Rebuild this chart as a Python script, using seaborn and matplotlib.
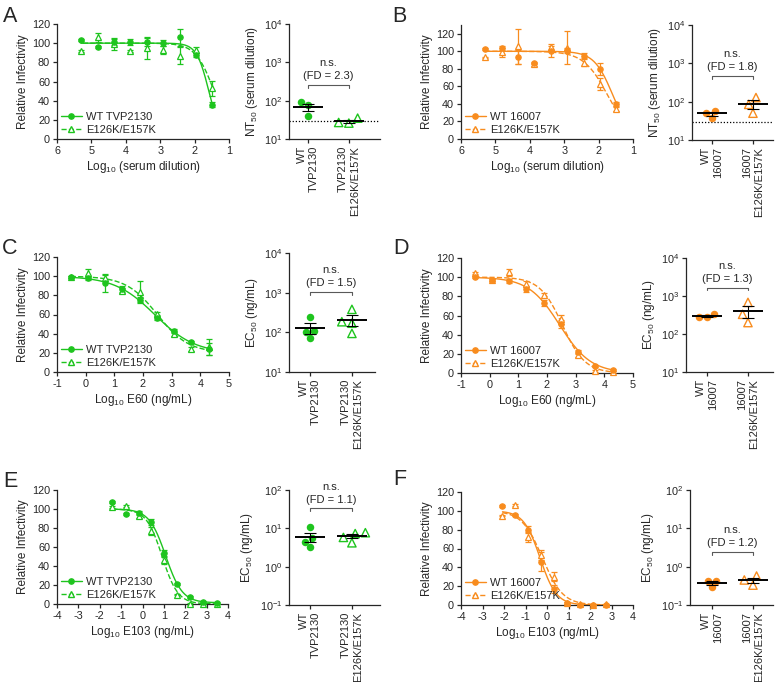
import numpy as np
import pandas as pd
import matplotlib
matplotlib.use('Agg')
import matplotlib.pyplot as plt
import matplotlib.transforms as mtransforms
from matplotlib.lines import Line2D
from matplotlib.ticker import LogLocator, LogFormatterMathtext, NullLocator
import seaborn as sns

GREEN = '#1EC41E'
ORANGE = '#F88C1E'

# ---- dose-response data: x = log10 dose, y = mean relative infectivity, err = error bar ----
serum_x = [5.30, 4.82, 4.35, 3.87, 3.39, 2.91, 2.43, 1.96, 1.48]
e60_x = [-0.52, 0.08, 0.68, 1.28, 1.89, 2.49, 3.09, 3.69, 4.29]
e103_tvp_x = [-1.41, -0.78, -0.17, 0.42, 1.02, 1.63, 2.24, 2.85, 3.47]
e103_16007_x = [-2.07, -1.47, -0.87, -0.27, 0.33, 0.93, 1.53, 2.13, 2.73]

a_wt = [103, 96, 101, 101, 101, 100, 106, 88, 36]
a_wt_err = [1, 1, 3, 3, 4, 3, 9, 2, 3]
a_mut = [92, 106, 99, 92, 95, 93, 87, 93, 53]
a_mut_err = [1, 5, 6, 1, 11, 4, 9, 3, 8]

b_wt = [103, 104, 93, 87, 100, 101, 95, 80, 40]
b_wt_err = [1, 2, 8, 1, 6, 3, 3, 7, 2]
b_mut = [93, 99, 106, 85, 105, 104, 87, 63, 34]
b_mut_err = [1, 5, 20, 2, 3, 19, 4, 7, 2]

c_wt = [99, 98, 93, 87, 75, 56, 43, 31, 24]
c_wt_err = [1, 2, 9, 3, 3, 2, 2, 1, 6]
c_mut = [99, 103, 98, 85, 84, 61, 40, 24, 26]
c_mut_err = [1, 4, 3, 3, 11, 2, 2, 2, 8]

d_wt = [100, 97, 96, 88, 73, 51, 22, 7, 3]
d_wt_err = [1, 1, 2, 3, 3, 4, 2, 1, 1]
d_mut = [104, 97, 105, 93, 81, 56, 19, 2, 1]
d_mut_err = [1, 1, 4, 3, 3, 5, 2, 1, 1]

e_wt = [107, 95, 96, 86, 54, 21, 7, 2, 1]
e_wt_err = [1, 1, 2, 3, 3, 1, 1, 1, 1]
e_mut = [102, 103, 93, 77, 46, 10, 0, 0, 0]
e_mut_err = [1, 1, 2, 4, 4, 1, 1, 0, 0]

f_wt = [105, 96, 80, 46, 17, 2, 0, 0, 0]
f_wt_err = [1, 1, 4, 10, 4, 1, 0, 0, 0]
f_mut = [95, 106, 72, 53, 30, 2, 1, 0, 1]
f_mut_err = [1, 1, 5, 5, 5, 1, 0, 0, 0]

# ---- NT50 / EC50 per replicate ----
a_nt50_wt = [90, 75, 40]
a_nt50_mut = [26, 35, 27]
b_nt50_wt = [58, 38, 52]
b_nt50_mut = [128, 85, 50]
c_ec50_wt = [245, 103, 110, 70]
c_ec50_mut = [380, 185, 170, 94]
d_ec50_wt = [286, 345, 286]
d_ec50_mut = [680, 330, 200]
e_ec50_wt = [11, 5.5, 4.5, 3.2]
e_ec50_mut = [7.7, 7.3, 5.8, 4.2]
f_ec50_wt = [0.43, 0.43, 0.29]
f_ec50_mut = [0.57, 0.45, 0.33]

fold_diff = ['2.3', '1.8', '1.5', '1.3', '1.1', '1.2']
tvp_groups = ['WT\nTVP2130', 'TVP2130\nE126K/E157K']
nyc_groups = ['WT\n16007', '16007\nE126K/E157K']
tvp_legend = ['WT TVP2130', 'E126K/E157K']
nyc_legend = ['WT 16007', 'E126K/E157K']
serum_detection_limit = 30

sns.set_style('ticks')
plt.rcParams['font.family'] = ['Liberation Sans', 'DejaVu Sans']
plt.rcParams['mathtext.fontset'] = 'custom'
plt.rcParams['mathtext.rm'] = 'Liberation Sans'
plt.rcParams['mathtext.it'] = 'Liberation Sans:italic'
plt.rcParams['axes.unicode_minus'] = False
plt.rcParams['font.size'] = 7.5
plt.rcParams['axes.labelsize'] = 8.5
plt.rcParams['xtick.labelsize'] = 7.8
plt.rcParams['ytick.labelsize'] = 7.8
plt.rcParams['axes.linewidth'] = 0.9
plt.rcParams['xtick.major.size'] = 3
plt.rcParams['ytick.major.size'] = 3
plt.rcParams['xtick.major.width'] = 0.9
plt.rcParams['ytick.major.width'] = 0.9
plt.rcParams['xtick.major.pad'] = 2
plt.rcParams['ytick.major.pad'] = 2

W, H = 777, 682
fig = plt.figure(figsize=(W / 100, H / 100), dpi=100)


def px_axes(left, top, right, bottom):
    return fig.add_axes([left / W, 1 - bottom / H, (right - left) / W, (bottom - top) / H])


def fit_logistic(x, y, free_bottom=False):
    """Grid-search fit of y = bottom + (100 - bottom) / (1 + 10^(h (x - x50)))"""
    x = np.asarray(x, float)
    y = np.asarray(y, float)
    mids = np.linspace(x.min() - 1, x.max() + 1, 501)
    steps = np.linspace(0.2, 6, 291)
    slopes = np.concatenate([-steps[::-1], steps])
    M, S = np.meshgrid(mids, slopes, indexing='ij')
    s = 1 / (1 + 10 ** (S[..., None] * (x - M[..., None])))
    if free_bottom:
        w = 1 - s
        bottom = ((y - 100 * s) * w).sum(-1) / (w ** 2).sum(-1)
        bottom = np.clip(bottom, 0, 50)
    else:
        bottom = np.zeros(M.shape)
    pred = bottom[..., None] + (100 - bottom[..., None]) * s
    sse = ((pred - y) ** 2).sum(-1)
    i = np.unravel_index(np.argmin(sse), sse.shape)
    return M[i], S[i], bottom[i]


def curve_panel(ax, x, wt, wt_err, mut, mut_err, color, labels, xlim, xticks, ylim, xlabel, free_bottom):
    for vals, err, marker, ls, mfc in [(mut, mut_err, '^', '--', 'white'),
                                       (wt, wt_err, 'o', '-', color)]:
        x50, h, bottom = fit_logistic(x, vals, free_bottom)
        xs = np.linspace(min(x), max(x), 200)
        ys = bottom + (100 - bottom) / (1 + 10 ** (h * (xs - x50)))
        sns.lineplot(x=xs, y=ys, ax=ax, color=color, lw=1.0, linestyle=ls, zorder=2)
        ax.errorbar(x, vals, yerr=err, fmt=marker, ms=4.4 if marker == '^' else 3.8,
                    mfc=mfc, mec=color, mew=0.9, color=color, elinewidth=0.9,
                    capsize=2.5, capthick=0.9, zorder=3, clip_on=False)
    ax.set_xlim(*xlim)
    ax.set_ylim(*ylim)
    ax.set_xticks(xticks)
    ax.set_yticks([0, 20, 40, 60, 80, 100, 120])
    ax.set_xlabel(xlabel, labelpad=2)
    ax.set_ylabel('Relative Infectivity', labelpad=2)
    sns.despine(ax=ax)
    handles = [Line2D([], [], color=color, marker='o', ms=3.8, lw=1.0, ls='-', mfc=color),
               Line2D([], [], color=color, marker='^', ms=4.4, lw=1.0, ls='--', mfc='white')]
    ax.legend(handles, labels, loc='lower left', frameon=False, fontsize=8,
              handlelength=1.9, handletextpad=0.4, labelspacing=0.25,
              borderaxespad=0.15, borderpad=0.2)


def dot_panel(ax, wt_vals, mut_vals, groups, color, ylim, ylabel, fd, bracket_y, xlim, lod=None):
    ax.set_yscale('log')
    sns.swarmplot(x=[groups[0]] * len(wt_vals), y=wt_vals, order=groups, ax=ax,
                  color=color, marker='o', size=5.4, linewidth=0, zorder=2)
    n = len(ax.collections)
    sns.swarmplot(x=[groups[1]] * len(mut_vals), y=mut_vals, order=groups, ax=ax,
                  color=color, marker='^', size=6, linewidth=1.0, zorder=2)
    for coll in ax.collections[n:]:
        coll.set_facecolor('none')
        coll.set_edgecolor(color)
        coll.set_linewidth(1.0)
    for i, vals in enumerate([wt_vals, mut_vals]):
        m = np.mean(vals)
        se = np.std(vals, ddof=1) / np.sqrt(len(vals))
        ax.hlines(m, i - 0.36, i + 0.36, color='black', lw=1.4, zorder=4)
        ax.errorbar(i, m, yerr=se, color='black', lw=0.8, capsize=4, capthick=0.8, zorder=4)
    if lod is not None:
        ax.axhline(lod, color='black', lw=0.9, ls=(0, (1, 1.5)), zorder=1)
    ax.set_ylim(*ylim)
    ax.set_xlim(*xlim)
    ax.yaxis.set_major_locator(LogLocator(base=10, numticks=10))
    ax.yaxis.set_major_formatter(LogFormatterMathtext())
    ax.yaxis.set_minor_locator(NullLocator())
    ax.set_xticks([0, 1])
    ax.set_xticklabels(groups, rotation=90, ha='center', va='top', multialignment='right', fontsize=8)
    ax.set_xlabel('')
    ax.set_ylabel(ylabel, labelpad=3)
    sns.despine(ax=ax)
    trans = mtransforms.blended_transform_factory(ax.transData, ax.transAxes)
    ax.plot([0, 0, 1, 1], [bracket_y - 0.025, bracket_y, bracket_y, bracket_y - 0.025],
            transform=trans, color='0.35', lw=0.8, clip_on=False)
    ax.text(0.5, bracket_y + 0.075, f'(FD = {fd})', transform=trans, ha='center', va='center', fontsize=8)
    ax.text(0.5, bracket_y + 0.19, 'n.s.', transform=trans, ha='center', va='center', fontsize=8)


nt50_label = 'NT$_{50}$ (serum dilution)'
ec50_label = 'EC$_{50}$ (ng/mL)'

# Row 1: serum
ax = px_axes(57, 24, 229, 139)
curve_panel(ax, serum_x, a_wt, a_wt_err, a_mut, a_mut_err, GREEN, tvp_legend,
            (6, 1), [6, 5, 4, 3, 2, 1], (0, 120), 'Log$_{10}$ (serum dilution)', False)
ax = px_axes(289, 24, 380, 139)
dot_panel(ax, a_nt50_wt, a_nt50_mut, tvp_groups, GREEN, (10, 1e4), nt50_label,
          fold_diff[0], 0.47, (-0.46, 1.76), lod=serum_detection_limit)

ax = px_axes(461, 25, 633, 139)
curve_panel(ax, serum_x, b_wt, b_wt_err, b_mut, b_mut_err, ORANGE, nyc_legend,
            (6, 1), [6, 5, 4, 3, 2, 1], (0, 130), 'Log$_{10}$ (serum dilution)', False)
ax = px_axes(692, 25, 773, 140)
dot_panel(ax, b_nt50_wt, b_nt50_mut, nyc_groups, ORANGE, (10, 1e4), nt50_label,
          fold_diff[1], 0.557, (-0.49, 1.49), lod=serum_detection_limit)

# Row 2: E60
ax = px_axes(57, 257, 229, 372)
curve_panel(ax, e60_x, c_wt, c_wt_err, c_mut, c_mut_err, GREEN, tvp_legend,
            (-1, 5), [-1, 0, 1, 2, 3, 4, 5], (0, 120), 'Log$_{10}$ E60 (ng/mL)', True)
ax = px_axes(289, 253, 375, 372)
dot_panel(ax, c_ec50_wt, c_ec50_mut, tvp_groups, GREEN, (10, 1e4), ec50_label,
          fold_diff[2], 0.67, (-0.5, 1.55))

ax = px_axes(461, 258, 633, 373)
curve_panel(ax, e60_x, d_wt, d_wt_err, d_mut, d_mut_err, ORANGE, nyc_legend,
            (-1, 5), [-1, 0, 1, 2, 3, 4, 5], (0, 120), 'Log$_{10}$ E60 (ng/mL)', True)
ax = px_axes(686, 258, 773, 372)
dot_panel(ax, d_ec50_wt, d_ec50_mut, nyc_groups, ORANGE, (10, 1e4), ec50_label,
          fold_diff[3], 0.74, (-0.51, 1.61))

# Row 3: E103
ax = px_axes(57, 490, 228, 604)
curve_panel(ax, e103_tvp_x, e_wt, e_wt_err, e_mut, e_mut_err, GREEN, tvp_legend,
            (-4, 4), list(range(-4, 5)), (0, 120), 'Log$_{10}$ E103 (ng/mL)', True)
ax = px_axes(289, 490, 380, 605)
dot_panel(ax, e_ec50_wt, e_ec50_mut, tvp_groups, GREEN, (0.1, 100), ec50_label,
          fold_diff[4], 0.84, (-0.5, 1.67))

ax = px_axes(461, 492, 633, 605)
curve_panel(ax, e103_16007_x, f_wt, f_wt_err, f_mut, f_mut_err, ORANGE, nyc_legend,
            (-4, 4), list(range(-4, 5)), (0, 120), 'Log$_{10}$ E103 (ng/mL)', True)
ax = px_axes(690, 490, 773, 605)
dot_panel(ax, f_ec50_wt, f_ec50_mut, nyc_groups, ORANGE, (0.1, 100), ec50_label,
          fold_diff[5], 0.46, (-0.54, 1.49))

# panel letters
for letter, lx, ly in [('A', 3, 6), ('B', 392, 6), ('C', 2, 238),
                       ('D', 393, 238), ('E', 3, 471), ('F', 393, 469)]:
    fig.text(lx / W, 1 - ly / H, letter, fontsize=15.5, ha='left', va='top')

fig.savefig('out.png', dpi=100)
